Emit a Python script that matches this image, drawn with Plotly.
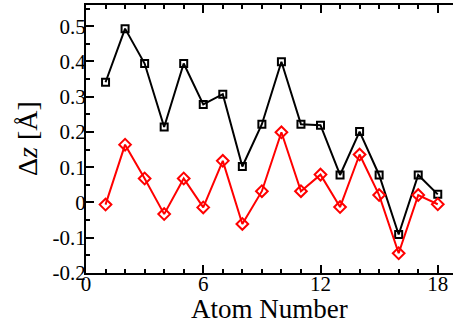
import plotly.graph_objects as go

atoms = list(range(1, 19))
black_dz = [0.341, 0.493, 0.394, 0.214, 0.394, 0.278, 0.307, 0.102, 0.222,
            0.399, 0.222, 0.219, 0.078, 0.201, 0.078, -0.091, 0.078, 0.023]
red_dz = [-0.006, 0.164, 0.068, -0.033, 0.068, -0.014, 0.118, -0.061, 0.032,
          0.199, 0.032, 0.079, -0.013, 0.136, 0.021, -0.144, 0.021, -0.005]

x_ticks = [0, 6, 12, 18]
y_ticks = [-0.2, -0.1, 0, 0.1, 0.2, 0.3, 0.4, 0.5]
y_tick_text = ["-0.2", "-0.1", "0", "0.1", "0.2", "0.3", "0.4", "0.5"]

font_family = "Liberation Serif, Times New Roman, serif"

fig = go.Figure()
fig.add_trace(go.Scatter(
    x=atoms, y=black_dz, mode="lines+markers",
    line=dict(color="black", width=2),
    marker=dict(symbol="square-open", size=7, color="black", line=dict(width=2)),
    showlegend=False, cliponaxis=False))
fig.add_trace(go.Scatter(
    x=atoms, y=red_dz, mode="lines+markers",
    line=dict(color="#ff0000", width=2),
    marker=dict(symbol="diamond-open", size=9, color="#ff0000", line=dict(width=2)),
    showlegend=False, cliponaxis=False))

fig.update_layout(
    xaxis=dict(
        range=[0, 18.78], tickvals=x_ticks, ticktext=[str(v) for v in x_ticks],
        showline=True, linecolor="black", linewidth=2, mirror="ticks",
        ticks="inside", tickcolor="black", tickwidth=1.5, ticklen=8,
        ticklabelstandoff=-9,
        showgrid=False, zeroline=False,
        tickfont=dict(family=font_family, size=21, color="black"),
        minor=dict(ticks="inside", dtick=1, tick0=0, ticklen=4, tickwidth=1.5,
                   tickcolor="black", showgrid=False)),
    yaxis=dict(
        range=[-0.2, 0.56], tickvals=y_ticks, ticktext=y_tick_text,
        showline=True, linecolor="black", linewidth=2, mirror=False,
        ticks="inside", tickcolor="black", tickwidth=1.5, ticklen=8,
        ticklabelstandoff=-6,
        showgrid=False, zeroline=False,
        tickfont=dict(family=font_family, size=21, color="black"),
        minor=dict(ticks="inside", dtick=0.05, tick0=0, ticklen=4, tickwidth=1.5,
                   tickcolor="black", showgrid=False)),
    yaxis2=dict(
        overlaying="y", side="right", matches="y", range=[-0.2, 0.56],
        tickvals=y_ticks, showticklabels=False, showline=False,
        ticks="inside", tickcolor="black", tickwidth=1.5, ticklen=3,
        showgrid=False, zeroline=False),
)

fig.add_annotation(text="Atom Number", xref="paper", yref="paper", x=0.5, y=0,
                   yshift=-36, xanchor="center", yanchor="middle", showarrow=False,
                   font=dict(family=font_family, size=27, color="black"))
fig.add_annotation(text="Δ<i>z</i> [Å]", xref="paper", yref="paper", x=0, y=0.5,
                   xshift=-59, xanchor="center", yanchor="middle", textangle=-90, showarrow=False,
                   font=dict(family=font_family, size=28, color="black"))

fig.update_layout(
    width=453, height=322,
    margin=dict(l=86, r=0, t=5, b=49),
    font=dict(family=font_family, color="black"),
    paper_bgcolor="white", plot_bgcolor="white",
)

fig.write_html("out.html")
